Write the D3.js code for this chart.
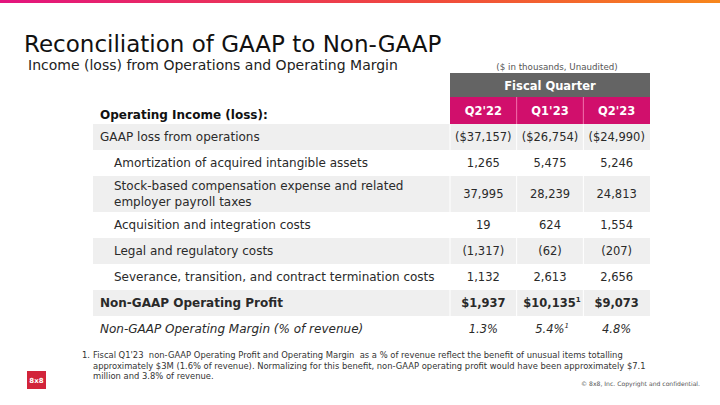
<!DOCTYPE html>
<html><head><meta charset="utf-8">
<script src="https://cdn.jsdelivr.net/npm/d3@7"></script>
<style>
html,body{margin:0;padding:0;background:#fff;}
text{font-family:"DejaVu Sans","Noto Sans",sans-serif;}
</style></head>
<body>
<svg id="c" width="720" height="405"></svg>
<script>
const quarters = ["Q2'22", "Q1'23", "Q2'23"];
const rowLabels = [
  ["GAAP loss from operations"],
  ["Amortization of acquired intangible assets"],
  ["Stock-based compensation expense and related", "employer payroll taxes"],
  ["Acquisition and integration costs"],
  ["Legal and regulatory costs"],
  ["Severance, transition, and contract termination costs"],
  ["Non-GAAP Operating Profit"],
  ["Non-GAAP Operating Margin (% of revenue)"]
];
const rowStyles = ["plain","indent","indent","indent","indent","indent","bold","italic"];
const valuesQ222 = ["($37,157)", "1,265", "37,995", "19", "(1,317)", "1,132", "$1,937", "1.3%"];
const valuesQ123 = ["($26,754)", "5,475", "28,239", "624", "(62)", "2,613", "$10,135", "5.4%"];
const valuesQ223 = ["($24,990)", "5,246", "24,813", "1,554", "(207)", "2,656", "$9,073", "4.8%"];
const footnoteMarks = [[], [], [], [], [], [], ["Q1'23"], ["Q1'23"]];
const footnoteLines = [
  "Fiscal Q1'23  non-GAAP Operating Profit and Operating Margin  as a % of revenue reflect the benefit of unusual items totalling",
  "approximately $3M (1.6% of revenue). Normalizing for this benefit, non-GAAP operating profit would have been approximately $7.1",
  "million and 3.8% of revenue."
];

const svg = d3.select("#c");
const pink = "#d10f6c", grayHdr = "#646464", rowGray = "#efefef", txt = "#2a2a2a";

// top gradient bar
const defs = svg.append("defs");
const lg = defs.append("linearGradient").attr("id","g1");
lg.append("stop").attr("offset","0%").attr("stop-color","#e3147e");
lg.append("stop").attr("offset","60%").attr("stop-color","#f04a3c");
lg.append("stop").attr("offset","100%").attr("stop-color","#f7871c");
svg.append("rect").attr("x",0).attr("y",0).attr("width",720).attr("height",3).attr("fill","url(#g1)");

svg.append("text").attr("x",24).attr("y",52).attr("font-size",23).attr("fill","#111")
  .text("Reconciliation of GAAP to Non-GAAP");
svg.append("text").attr("x",28).attr("y",69.5).attr("font-size",14).attr("fill","#222")
  .text("Income (loss) from Operations and Operating Margin");
svg.append("text").attr("x",557).attr("y",70).attr("font-size",8.7).attr("fill","#555").attr("text-anchor","middle")
  .text("($ in thousands, Unaudited)");

const x = d3.scaleBand().domain(quarters).range([450, 650]);
const tableLeft = 93;

// header
svg.append("rect").attr("x",x.range()[0]).attr("y",73).attr("width",x.range()[1]-x.range()[0]).attr("height",24).attr("fill",grayHdr);
svg.append("text").attr("x",(x.range()[0]+x.range()[1])/2).attr("y",89.5).attr("text-anchor","middle")
  .attr("font-size",11.5).attr("font-weight","bold").attr("fill","#fff").text("Fiscal Quarter");
const qh = svg.append("g");
qh.selectAll("rect").data(quarters).join("rect")
  .attr("x",d=>x(d)).attr("y",97).attr("width",x.bandwidth()).attr("height",27).attr("fill",pink);
qh.selectAll("line").data(quarters.slice(1)).join("line")
  .attr("x1",d=>x(d)).attr("x2",d=>x(d)).attr("y1",97).attr("y2",124).attr("stroke","#f06aa8").attr("stroke-width",1);
qh.selectAll("text").data(quarters).join("text")
  .attr("x",d=>x(d)+x.bandwidth()/2).attr("y",115).attr("text-anchor","middle")
  .attr("font-size",11.5).attr("font-weight","bold").attr("fill","#fff").text(d=>d);

svg.append("text").attr("x",100).attr("y",119).attr("font-size",12).attr("font-weight","bold").attr("fill","#111")
  .text("Operating Income (loss):");

// rows
const cols = [valuesQ222, valuesQ123, valuesQ223];
const rows = rowLabels.map((lab,i)=>({lab, style:rowStyles[i], vals:quarters.map((q,j)=>({q, v:cols[j][i], mark: footnoteMarks[i].includes(q)}))}));
let yCur = 124;
rows.forEach(r=>{ r.h = 26 + (r.lab.length-1)*10; r.y = yCur; yCur += r.h; });

const rg = svg.append("g");
rows.forEach((r,i)=>{
  const g = rg.append("g");
  if(i%2===0){
    g.append("rect").attr("x",tableLeft).attr("y",r.y).attr("width",x.range()[1]-tableLeft).attr("height",r.h).attr("fill",rowGray);
    g.selectAll("line").data(quarters).join("line")
      .attr("x1",d=>x(d)).attr("x2",d=>x(d)).attr("y1",r.y).attr("y2",r.y+r.h).attr("stroke","#fff").attr("stroke-width",1);
  }
  const lx = r.style==="indent" ? 114 : 100;
  const fw = r.style==="bold" ? "bold" : "normal";
  const fs = r.style==="italic" ? "italic" : "normal";
  const t0 = r.y + r.h/2 + 4 - (r.lab.length-1)*8;
  g.selectAll("text.lab").data(r.lab).join("text").attr("class","lab")
    .attr("x",lx).attr("y",(d,k)=>t0+k*16).attr("font-size",12).attr("font-weight",fw).attr("font-style",fs)
    .attr("fill",txt).text(d=>d);
  const vt = g.selectAll("text.val").data(r.vals).join("text").attr("class","val")
    .attr("x",d=>x(d.q)+x.bandwidth()/2 + (d.mark?2:0)).attr("y",r.y + r.h/2 + 4).attr("text-anchor","middle")
    .attr("font-size",11.5).attr("font-weight",fw).attr("font-style",fs).attr("fill",txt);
  vt.text(d=>d.v);
  vt.filter(d=>d.mark).append("tspan").attr("font-size",7).attr("dy",-5).text("1");
});

// footnote
svg.append("text").attr("x",82).attr("y",358).attr("font-size",8.4).attr("fill","#333").text("1.");
svg.append("g").selectAll("text").data(footnoteLines).join("text")
  .attr("x",93).attr("y",(d,i)=>358+i*10.5).attr("font-size",8.4).attr("fill","#333").attr("xml:space","preserve").text(d=>d);

// logo
svg.append("rect").attr("x",27).attr("y",371).attr("width",19).attr("height",18).attr("fill","#d2243a");
svg.append("text").attr("x",36.5).attr("y",383).attr("text-anchor","middle").attr("font-size",7).attr("font-weight","bold").attr("fill","#fff").text("8x8");

svg.append("text").attr("x",700).attr("y",386).attr("text-anchor","end").attr("font-size",6.1).attr("fill","#555")
  .text("© 8x8, Inc. Copyright and confidential.");
</script>
</body></html>
